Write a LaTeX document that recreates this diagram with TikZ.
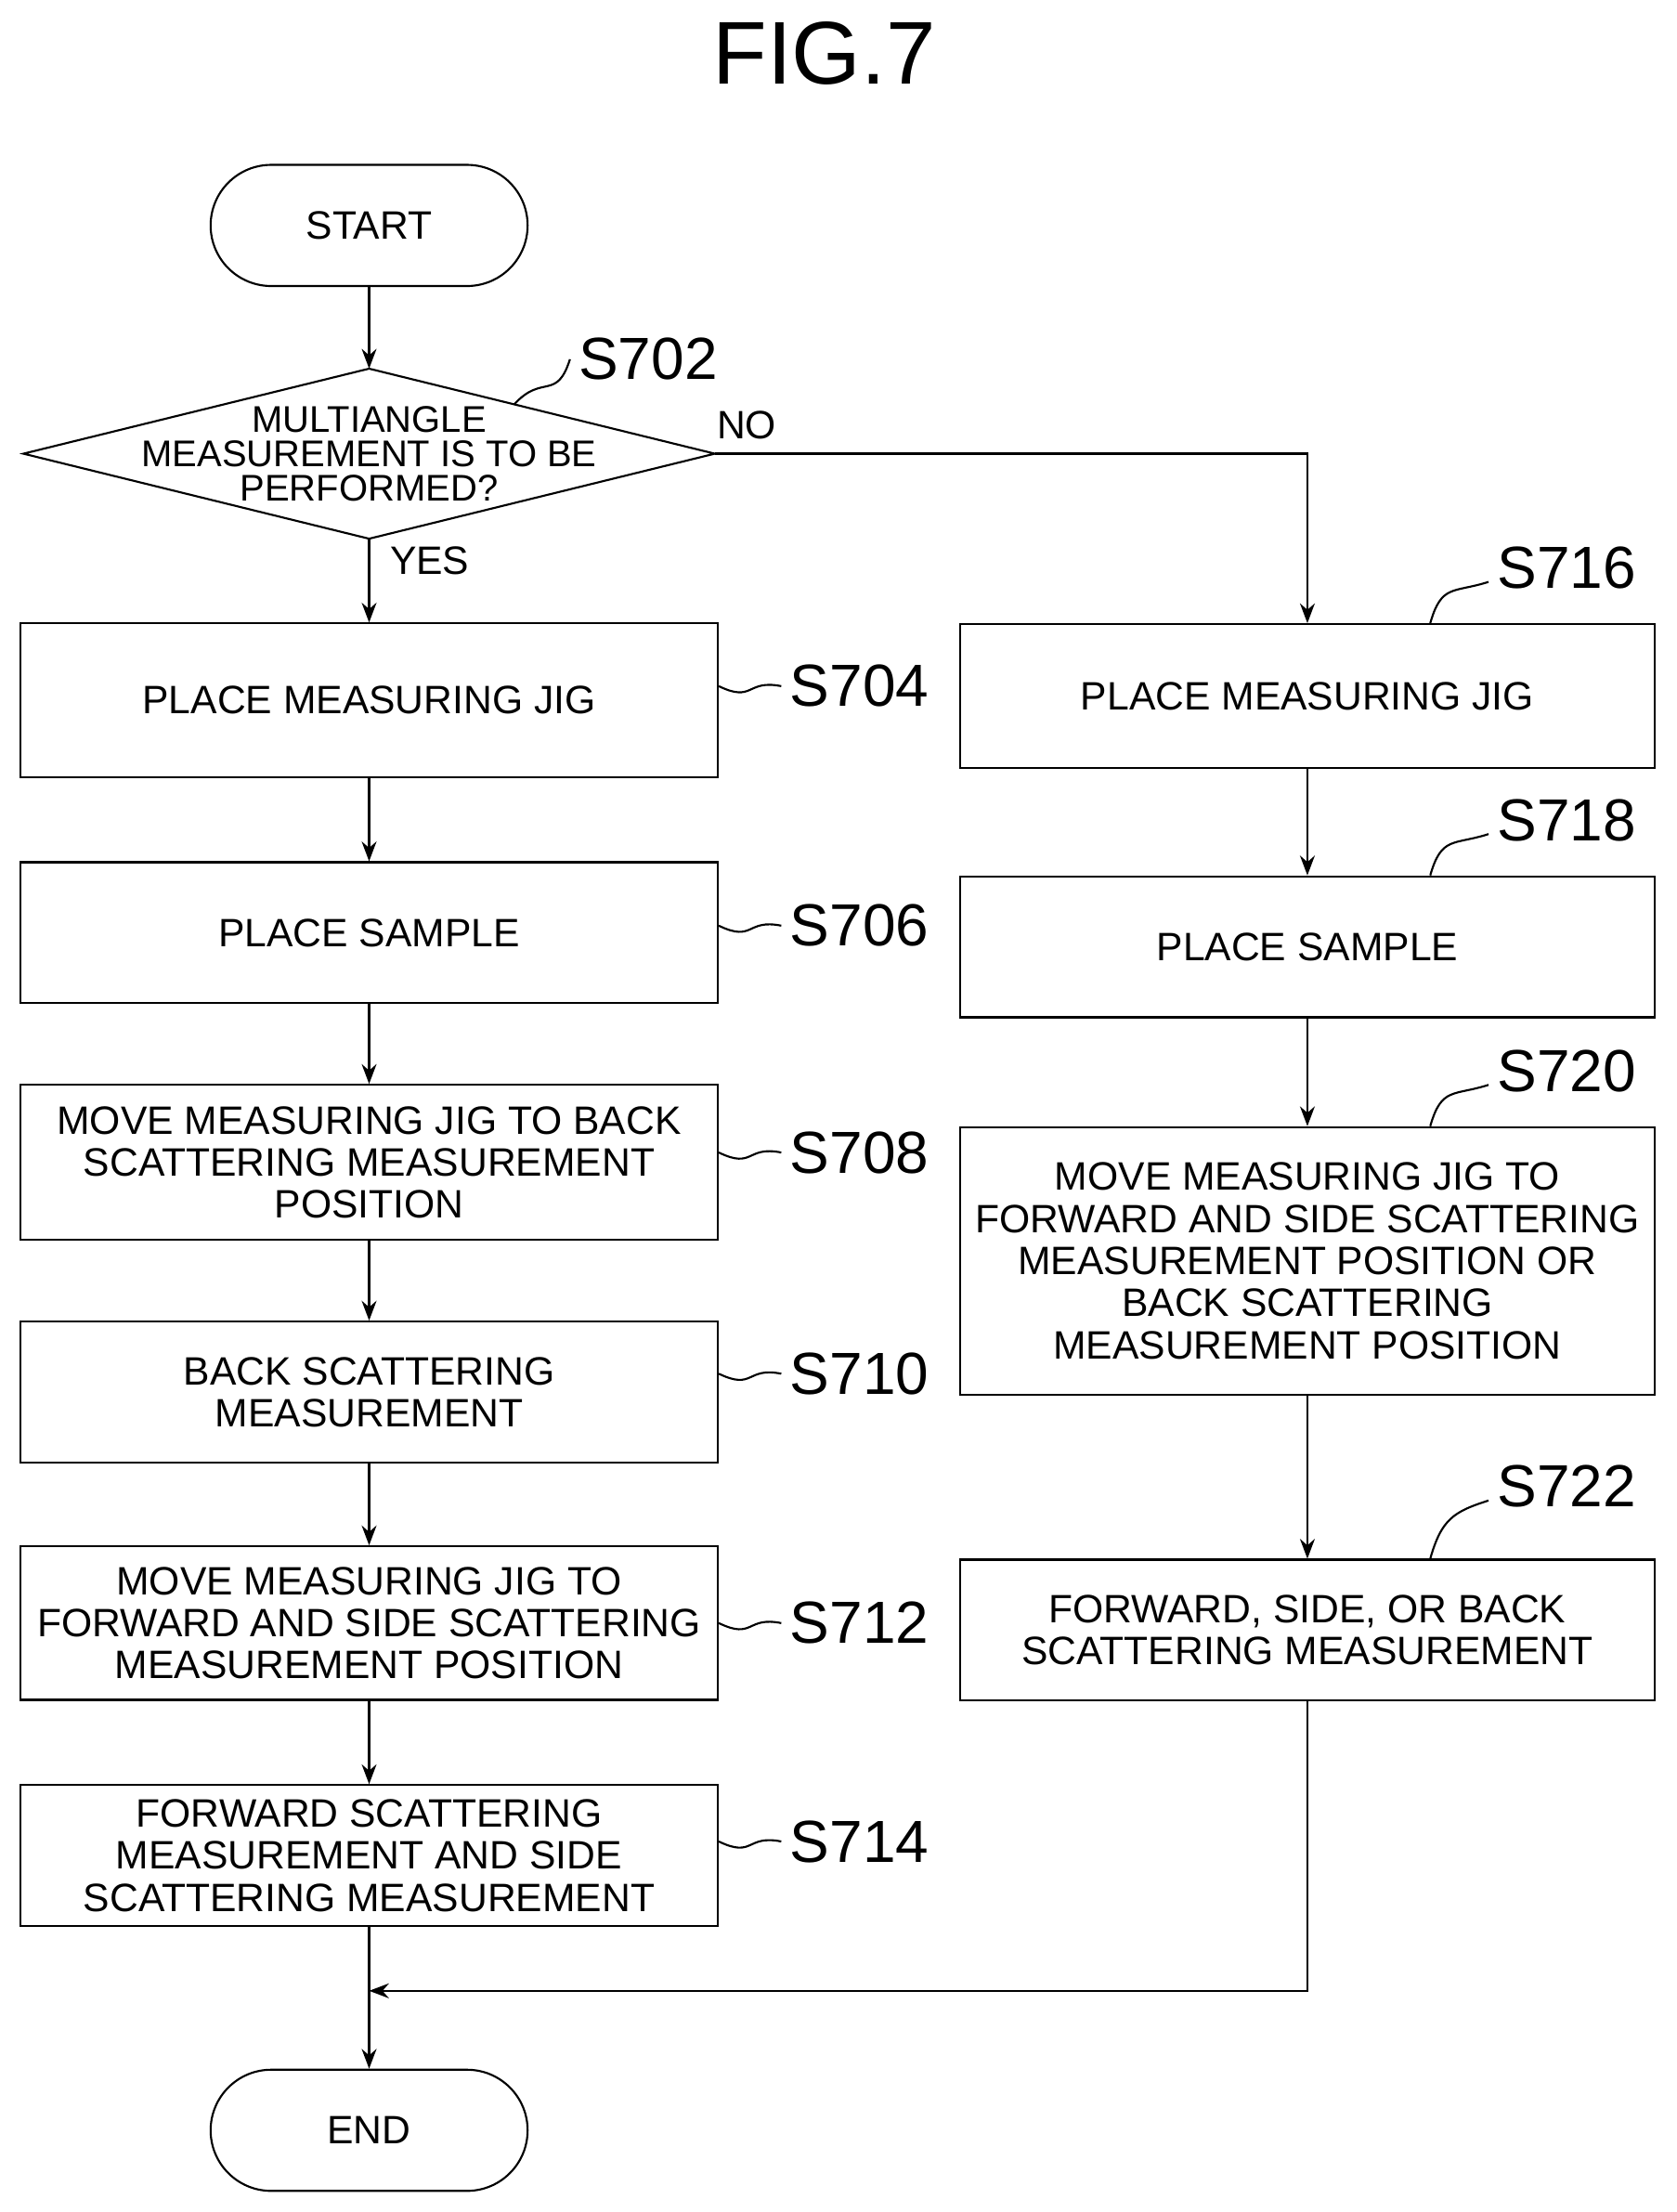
\documentclass[tikz,border=0pt]{standalone}
\usepackage{fontspec}
\setmainfont{Liberation Sans}
\usetikzlibrary{arrows.meta}

\tikzset{
  box/.style={draw, thick, rectangle, align=center, font=\fontsize{16}{17}\selectfont},
  term/.style={draw, thick, rounded corners=43*0.02cm, minimum width=225*0.02cm, minimum height=86*0.02cm, font=\fontsize{16}{17}\selectfont},
  lbl/.style={font=\fontsize{24}{24}\selectfont},
  flow/.style={thick, -{Stealth[length=8pt]}},
  wave/.style={thick}
}

\begin{document}
\begin{tikzpicture}[x=0.02cm, y=-0.02cm]
  \useasboundingbox (0,0) rectangle (1190,1570);
  \node[font=\fontsize{36}{36}\selectfont] (title) at (585,38) {FIG.7};

  % left column
  \node[term] (start) at (262,160) {START};
  \node[rectangle, minimum width=490*0.02cm, minimum height=120*0.02cm, inner sep=0pt, align=center, font=\fontsize{15}{14}\selectfont] (dec) at (262,322) {MULTIANGLE\\MEASUREMENT IS TO BE\\PERFORMED?};
  \draw[thick] (dec.north) -- (dec.east) -- (dec.south) -- (dec.west) -- cycle;
  \node[box, minimum width=495*0.02cm, minimum height=109*0.02cm] (s704) at (262,497) {PLACE MEASURING JIG};
  \node[box, minimum width=495*0.02cm, minimum height=100*0.02cm] (s706) at (262,662) {PLACE SAMPLE};
  \node[box, minimum width=495*0.02cm, minimum height=110*0.02cm] (s708) at (262,825) {MOVE MEASURING JIG TO BACK\\SCATTERING MEASUREMENT\\POSITION};
  \node[box, minimum width=495*0.02cm, minimum height=100*0.02cm] (s710) at (262,988) {BACK SCATTERING\\MEASUREMENT};
  \node[box, minimum width=495*0.02cm, minimum height=109*0.02cm] (s712) at (262,1152) {MOVE MEASURING JIG TO\\FORWARD AND SIDE SCATTERING\\MEASUREMENT POSITION};
  \node[box, minimum width=495*0.02cm, minimum height=100*0.02cm] (s714) at (262,1317) {FORWARD SCATTERING\\MEASUREMENT AND SIDE\\SCATTERING MEASUREMENT};
  \node[term] (end) at (262,1512) {END};

  % right column
  \node[box, minimum width=493*0.02cm, minimum height=102*0.02cm] (s716) at (928,494) {PLACE MEASURING JIG};
  \node[box, minimum width=493*0.02cm, minimum height=100*0.02cm] (s718) at (928,672) {PLACE SAMPLE};
  \node[box, minimum width=493*0.02cm, minimum height=190*0.02cm] (s720) at (928,895) {MOVE MEASURING JIG TO\\FORWARD AND SIDE SCATTERING\\MEASUREMENT POSITION OR\\BACK SCATTERING\\MEASUREMENT POSITION};
  \node[box, minimum width=493*0.02cm, minimum height=100*0.02cm] (s722) at (928,1157) {FORWARD, SIDE, OR BACK\\SCATTERING MEASUREMENT};

  % box labels
  \node[lbl] (l702) at (460,255) {S702};
  \node[lbl] (l704) at (610,487) {S704};
  \node[lbl] (l706) at (610,657) {S706};
  \node[lbl] (l708) at (610,818) {S708};
  \node[lbl] (l710) at (610,975) {S710};
  \node[lbl] (l712) at (610,1152) {S712};
  \node[lbl] (l714) at (610,1307) {S714};
  \node[lbl] (l716) at (1112,403) {S716};
  \node[lbl] (l718) at (1112,582) {S718};
  \node[lbl] (l720) at (1112,760) {S720};
  \node[lbl] (l722) at (1112,1055) {S722};

  \node[font=\fontsize{16}{17}\selectfont] (no) at (530,302) {NO};
  \node[font=\fontsize{16}{17}\selectfont] (yes) at (305,398) {YES};

  % leader squiggles
  \draw[wave] (365,287) .. controls (385,265) and (395,285) .. (l702.west);
  \foreach \s in {704,706,708,710,712,714}
    \draw[wave] (s\s.east |- l\s.west) .. controls +(25,12) and +(-25,-5) .. (l\s.west);
  \foreach \s in {716,718,720,722}
    \draw[wave] ([xshift=-160*0.02cm]s\s.north east) .. controls +(8,-28) and +(-25,8) .. ([yshift=-10*0.02cm]l\s.west);

  % connectors
  \draw[flow] (start) -- (dec.north);
  \draw[flow] (dec.south) -- (s704);
  \draw[flow] (s704) -- (s706);
  \draw[flow] (s706) -- (s708);
  \draw[flow] (s708) -- (s710);
  \draw[flow] (s710) -- (s712);
  \draw[flow] (s712) -- (s714);
  \draw[flow] (s714) -- (end);
  \draw[flow] (dec.east) -| (s716);
  \draw[flow] (s716) -- (s718);
  \draw[flow] (s718) -- (s720);
  \draw[flow] (s720) -- (s722);
  \coordinate (merge) at (262,1413);
  \draw[flow] (s722) |- (merge);
\end{tikzpicture}
\end{document}
